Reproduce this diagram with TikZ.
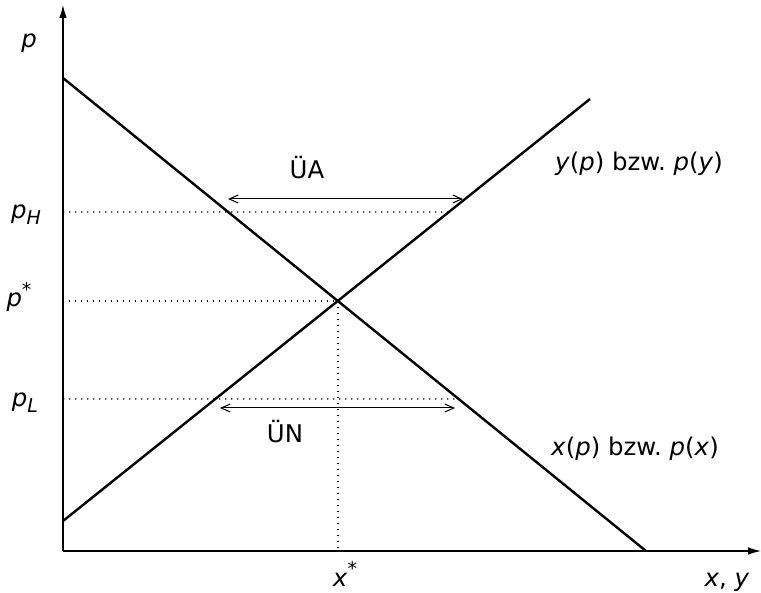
\documentclass[tikz,border=0pt]{standalone}
\usepackage{fontspec}
\setmainfont{DejaVu Sans}
\usetikzlibrary{arrows.meta}
\newcommand{\subH}[1]{\raisebox{-0.45ex}{\fontsize{9.5}{11}\selectfont\textit{#1}}}
\newcommand{\supS}{\raisebox{0.75ex}{\fontsize{9.5}{11}\selectfont *}}
\begin{document}
\begin{tikzpicture}[x=0.5pt,y=-0.5pt,
  font=\fontsize{12.2}{14}\selectfont,
  curve/.style={line width=1.2pt},
  axis/.style={line width=0.6pt,-{Latex[length=6.5pt,width=3.8pt]}},
  guide/.style={line width=0.7pt,dash pattern=on 0.7pt off 2.3pt},
  gap/.style={line width=0.5pt,{Straight Barb[length=4.5pt,width=4pt]}-{Straight Barb[length=4.5pt,width=4pt]}},
  lbl/.style={inner sep=0pt}]
\useasboundingbox (0,0) rectangle (761,593);
% axes
\coordinate (O) at (63,551);
\coordinate (ytop) at (63,5);
\coordinate (xend) at (761,551);
\draw[axis] (O) -- (ytop);
\draw[axis] (O) -- (xend);
% curves
\coordinate (d1) at (63,78);
\coordinate (d2) at (646,551);
\coordinate (s1) at (63,521);
\coordinate (s2) at (590,99);
\draw[curve] (d1) -- (d2);
\draw[curve] (s1) -- (s2);
\coordinate (E) at (intersection of d1--d2 and s1--s2);
% price levels
\coordinate (pH) at (63,212);
\coordinate (pHr) at (700,212);
\coordinate (pL) at (63,399);
\coordinate (pLr) at (700,399);
\coordinate (pHs) at (intersection of s1--s2 and pH--pHr);
\coordinate (pLd) at (intersection of d1--d2 and pL--pLr);
\coordinate (pS) at (O |- E);
\coordinate (xS) at (E |- O);
\draw[guide] (pH) -- (pHs);
\draw[guide] (pL) -- (pLd);
\draw[guide] (pS) -- (E);
\draw[guide] (E) -- (xS);
% gaps
\coordinate (ua1) at (228,199);
\coordinate (ua2) at (463,199);
\coordinate (un1) at (220,408);
\coordinate (un2) at (455,408);
\draw[gap] (ua1) -- (ua2);
\draw[gap] (un1) -- (un2);
% labels
\node[lbl] (lp) at (29,43) {\textit{p}};
\node[lbl] (lpH) at (26,215) {\textit{p}\subH{H}};
\node[lbl] (lpS) at (19,297) {\textit{p}\supS};
\node[lbl] (lpL) at (25,403) {\textit{p}\subH{L}};
\node[lbl] (lUA) at (307,168) {ÜA};
\node[lbl] (lUN) at (285,432) {ÜN};
\node[lbl] (lsup) at (639,164) {\textit{y}(\textit{p})\ bzw.\ \textit{p}(\textit{y})};
\node[lbl] (ldem) at (635,449) {\textit{x}(\textit{p})\ bzw.\ \textit{p}(\textit{x})};
\node[lbl,anchor=base] (lxS) at (345,586) {\textit{x}\supS};
\node[lbl,anchor=base] (lxy) at (727,586) {\textit{x}, \textit{y}};
\end{tikzpicture}
\end{document}
